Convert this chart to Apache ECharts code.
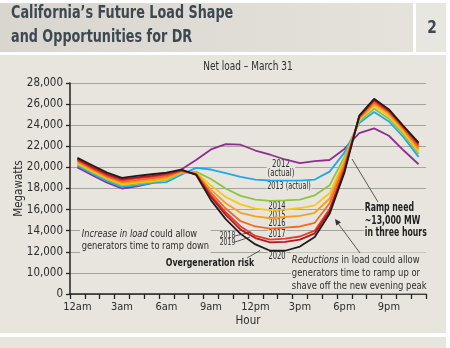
<!DOCTYPE html>
<html><head><meta charset="utf-8">
<script src="https://cdn.jsdelivr.net/npm/echarts@6/dist/echarts.min.js"></script>
<style>html,body{margin:0;padding:0;background:#fff;}#c{width:450px;height:348px;}</style>
</head><body><div id="c"></div>
<script>
// ---- data ----
const hours = ['12am','1am','2am','3am','4am','5am','6am','7am','8am','9am','10am','11am',
               '12pm','1pm','2pm','3pm','4pm','5pm','6pm','7pm','8pm','9pm','10pm','11pm'];
// axis is broken: the "0" label sits where 8,000 would be
const yTicks = [8000,10000,12000,14000,16000,18000,20000,22000,24000,26000,28000];
const yTickLabels = ['0','10,000','12,000','14,000','16,000','18,000','20,000','22,000','24,000','26,000','28,000'];
const years = ['2012','2013','2014','2015','2016','2017','2018','2019','2020'];
const load2012 = [20000,19250,18550,18000,18200,18500,18900,19800,20700,21700,22200,22150,21600,21200,20750,20400,20600,20700,21750,23250,23700,23000,21600,20300];
const load2013 = [20150,19400,18700,18150,18300,18500,18600,19300,19950,19800,19450,19100,18850,18760,18740,18750,18850,19600,21400,24200,25250,24350,22850,21000];
const load2014 = [20300,19550,18850,18300,18450,18600,18800,19450,19600,18900,18000,17300,16950,16820,16880,16950,17350,18300,21000,24350,25550,24600,23100,21300];
const load2015 = [20400,19650,18950,18400,18550,18700,18900,19550,19500,18300,17200,16500,16100,15960,16000,16150,16400,17550,20700,24500,25800,24850,23300,21500];
const load2016 = [20500,19750,19050,18520,18650,18800,19000,19600,19450,17900,16600,15700,15350,15180,15300,15400,15700,17050,20500,24600,26000,25050,23500,21700];
const load2017 = [20600,19850,19150,18640,18800,18950,19150,19650,19400,17600,16100,14900,14400,14200,14300,14400,14750,16600,20200,24700,26150,25200,23650,21900];
const load2018 = [20700,19950,19250,18760,18950,19100,19300,19700,19350,17350,15750,14400,13500,13150,13250,13450,14000,16050,19900,24800,26300,25300,23750,22100];
const load2019 = [20800,20050,19350,18880,19050,19200,19400,19750,19350,17200,15500,14100,13300,12900,12950,13150,13750,15850,19700,24850,26400,25400,23850,22250];
const load2020 = [20900,20200,19500,19000,19200,19350,19500,19800,19300,16900,15100,13700,12700,12100,12100,12500,13400,15600,19500,24900,26500,25500,23900,22350];
const allLoads = [load2012,load2013,load2014,load2015,load2016,load2017,load2018,load2019,load2020];

// ---- style ----
const colors = ['#8e2e90','#1ea9ee','#8dc540','#f6c71c','#f7a01d','#f36b21','#e93a2a','#b8151d','#1e1c1c'];
const BG = '#e7e5de';
const NARROW = "'DejaVu Sans Condensed','Liberation Sans Narrow',sans-serif";
const TXT = '#2d2d2d';
const f = (s, w, st) => (st ? st + ' ' : '') + (w ? w + ' ' : '') + s + 'px ' + NARROW;

const chart = echarts.init(document.getElementById('c'), null, {renderer:'canvas'});

const series = years.map((y, i) => ({
  name: y, type: 'line', data: allLoads[i], symbol: 'none', z: 3 + i,
  lineStyle: {color: colors[i], width: 1.8}, animation: false
}));

function txt(x, y, text, font, sx, extra) {
  return {type:'text', x, y, z: 1, silent: true, scaleX: sx,
    style: Object.assign({text, font, fill: TXT, align:'center', verticalAlign:'middle',
      backgroundColor: BG}, extra || {})};
}
function seg(x1,y1,x2,y2,w){
  return {type:'line', z: 20, silent:true, shape:{x1,y1,x2,y2}, style:{stroke:'#333', lineWidth:w||0.8}};
}

const graphics = [
  {type:'rect', z:-100, silent:true, shape:{x:0,y:3,width:413,height:49},
   style:{fill:new echarts.graphic.LinearGradient(0,0,1,0,[{offset:0,color:'#d8d6ce'},{offset:1,color:'#e4e2db'}])}},
  {type:'rect', z:-100, silent:true, shape:{x:416,y:3,width:30,height:49}, style:{fill:'#e8e6e0'}},
  {type:'rect', z:-100, silent:true, shape:{x:0,y:55,width:446,height:278}, style:{fill:BG}},
  {type:'rect', z:-100, silent:true, shape:{x:0,y:337,width:446,height:11}, style:{fill:BG}},
  {type:'text', z:5, x:11, y:13, scaleX:0.79, style:{text:"California’s Future Load Shape", font:f(18,'bold'), fill:'#3d4851', align:'left', verticalAlign:'middle'}},
  {type:'text', z:5, x:11, y:37, scaleX:0.79, style:{text:'and Opportunities for DR', font:f(18,'bold'), fill:'#3d4851', align:'left', verticalAlign:'middle'}},
  {type:'text', z:5, x:432, y:28, scaleX:0.85, style:{text:'2', font:f(18,'bold'), fill:'#3d4851', align:'center', verticalAlign:'middle'}},
  txt(248, 67, 'Net load – March 31', f(12), 0.83, {backgroundColor:'transparent'}),
  txt(281, 169, '2012\n(actual)', f(10), 0.78, {lineHeight:9, padding:[0,1]}),
  txt(289, 186.5, '2013 (actual)', f(10), 0.72, {padding:[0,1]}),
  txt(277, 206, '2014', f(10), 0.75),
  txt(277, 215, '2015', f(10), 0.75),
  txt(277, 223.5, '2016', f(10), 0.75),
  txt(277, 234, '2017', f(10), 0.75, {padding:[0,1]}),
  txt(277, 256, '2020', f(10), 0.75, {padding:[0,1]}),
  txt(227.5, 239.5, '2018\n2019', f(8.5), 0.8, {lineHeight:6.8, backgroundColor:'transparent'}),
  seg(235,236,251,232), seg(235,242,250,237),
  txt(210, 263, 'Overgeneration risk', f(11,'bold'), 0.79, {fill:'#1e1e1e', padding:[0,1]}),
  seg(247,258,260,250.5),
  txt(80, 240, '{i|Increase in load} could allow\ngenerators time to ramp down', f(11), 0.84,
      {align:'left', lineHeight:12.5, padding:[1,2], rich:{i:{font:f(11,null,'italic'), fill:TXT}}}),
  txt(291, 273, '{i|Reductions} in load could allow\ngenerators time to ramp up or\nshave off the new evening peak', f(11), 0.85,
      {align:'left', lineHeight:13, padding:[1,1], rich:{i:{font:f(11,null,'italic'), fill:TXT}}}),
  txt(364, 220.5, 'Ramp need\n~13,000 MW\nin three hours', f(12,'bold'), 0.72,
      {align:'left', lineHeight:12.3, fill:'#1e1e1e', padding:[1,1]}),
  seg(352,159,378,202),
  seg(360,253,337,222),
  {type:'polygon', z:20, silent:true, shape:{points:[[335,219],[341,222.2],[336.2,225.6]]}, style:{fill:'#333'}}
];

chart.setOption({
  animation: false,
  backgroundColor: 'transparent',
  grid: {left:70, right:24, top:83, bottom:54, containLabel:false, outerBoundsMode:'none'},
  xAxis: {
    type:'category', data: hours, boundaryGap: true,
    name:'Hour', nameLocation:'middle', nameGap:21, nameMoveOverlap:false,
    nameTextStyle:{color:TXT, fontSize:11.5, fontFamily:NARROW},
    axisLine:{lineStyle:{color:'#222', width:1.5}},
    axisTick:{show:true, interval:0, alignWithLabel:false, inside:false, length:5, lineStyle:{color:'#222', width:1.3}},
    axisLabel:{interval:2, color:TXT, fontSize:11, fontFamily:NARROW, margin:8},
    splitLine:{show:false}
  },
  yAxis: {
    type:'value', min: yTicks[0], max: yTicks[yTicks.length-1], interval: 2000,
    name:'Megawatts', nameLocation:'middle', nameGap:45, nameRotate:90, nameMoveOverlap:false,
    nameTextStyle:{color:TXT, fontSize:11.5, fontFamily:NARROW},
    axisLine:{show:true, lineStyle:{color:'#222', width:1.5}},
    axisTick:{show:true, length:4, lineStyle:{color:'#222', width:1.3}},
    axisLabel:{color:TXT, fontSize:11.5, fontFamily:NARROW, margin:7,
      formatter: v => { const k = yTicks.indexOf(v); return k >= 0 ? yTickLabels[k] : ''; }},
    splitLine:{show:true, lineStyle:{color:'#a4a49f', width:1.2}}
  },
  series: series,
  graphic: {elements: graphics}
});
</script></body></html>
